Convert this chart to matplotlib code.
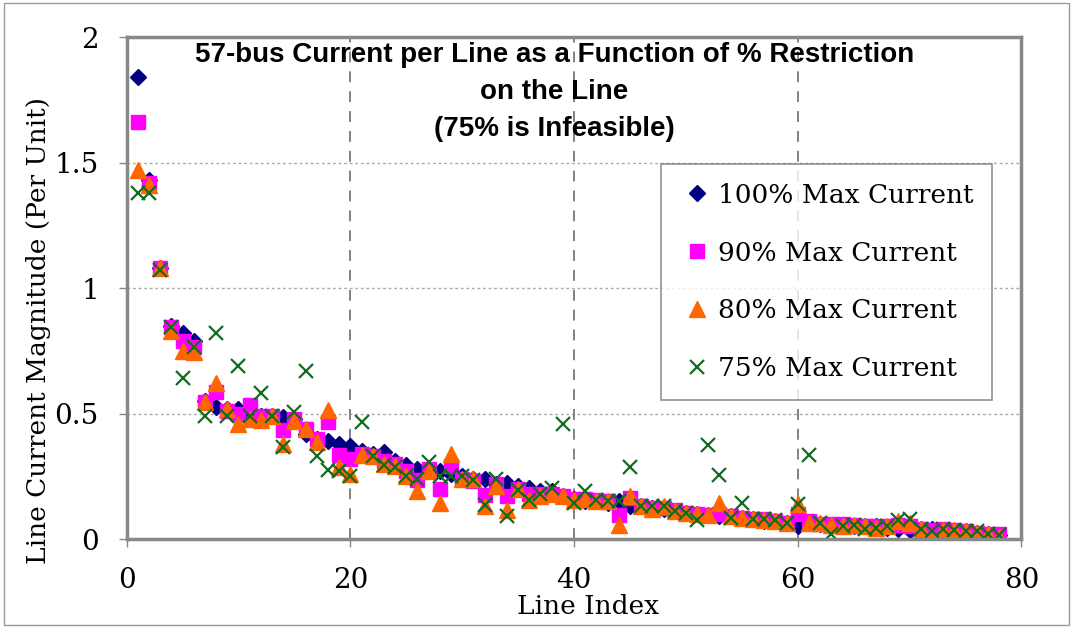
import matplotlib
matplotlib.use('Agg')

import matplotlib.pyplot as plt
from matplotlib.patches import Rectangle

# line current (per unit) for each restriction level, lines 1..78
line_index = list(range(1, 79))

cur_100 = [1.84, 1.43, 1.08, 0.85, 0.82, 0.79, 0.55, 0.525, 0.52, 0.52,
           0.50, 0.49, 0.49, 0.485, 0.48, 0.42, 0.40, 0.39, 0.38, 0.37,
           0.35, 0.34, 0.345, 0.31, 0.295, 0.28, 0.28, 0.27, 0.26, 0.25,
           0.24, 0.24, 0.22, 0.225, 0.21, 0.205, 0.19, 0.19, 0.17, 0.16,
           0.15, 0.15, 0.145, 0.15, 0.13, 0.13, 0.125, 0.12, 0.11, 0.105,
           0.10, 0.095, 0.09, 0.09, 0.085, 0.08, 0.07, 0.07, 0.065, 0.05,
           0.065, 0.06, 0.055, 0.055, 0.05, 0.05, 0.05, 0.045, 0.04, 0.035,
           0.04, 0.04, 0.035, 0.03, 0.03, 0.025, 0.02, 0.015]

cur_90 = [1.66, 1.42, 1.08, 0.845, 0.79, 0.765, 0.545, 0.585, 0.51, 0.50,
          0.535, 0.49, 0.49, 0.435, 0.48, 0.44, 0.40, 0.465, 0.335, 0.32,
          0.34, 0.33, 0.31, 0.30, 0.27, 0.235, 0.28, 0.20, 0.29, 0.24,
          0.23, 0.175, 0.22, 0.17, 0.20, 0.18, 0.18, 0.18, 0.17, 0.16,
          0.16, 0.155, 0.15, 0.095, 0.165, 0.13, 0.125, 0.125, 0.115, 0.105,
          0.10, 0.095, 0.10, 0.09, 0.085, 0.08, 0.08, 0.07, 0.065, 0.10,
          0.07, 0.06, 0.06, 0.06, 0.055, 0.05, 0.05, 0.05, 0.055, 0.05,
          0.04, 0.035, 0.04, 0.035, 0.03, 0.025, 0.02, 0.02]

cur_80 = [1.47, 1.41, 1.08, 0.83, 0.75, 0.745, 0.545, 0.62, 0.52, 0.46,
          0.48, 0.475, 0.49, 0.38, 0.47, 0.44, 0.385, 0.515, 0.285, 0.26,
          0.335, 0.33, 0.30, 0.29, 0.25, 0.19, 0.27, 0.145, 0.34, 0.24,
          0.24, 0.13, 0.21, 0.115, 0.20, 0.155, 0.17, 0.18, 0.17, 0.155,
          0.16, 0.15, 0.15, 0.055, 0.17, 0.13, 0.12, 0.13, 0.11, 0.105,
          0.10, 0.095, 0.145, 0.09, 0.085, 0.08, 0.075, 0.07, 0.065, 0.14,
          0.065, 0.065, 0.055, 0.05, 0.055, 0.05, 0.045, 0.05, 0.07, 0.065,
          0.04, 0.01, 0.035, 0.035, 0.03, 0.025, 0.02, 0.01]

cur_75 = [1.38, 1.38, 1.07, 0.845, 0.64, 0.765, 0.49, 0.82, 0.49, 0.69,
          0.49, 0.58, 0.49, 0.365, 0.505, 0.67, 0.33, 0.275, 0.27, 0.25,
          0.465, 0.33, 0.295, 0.285, 0.25, 0.24, 0.305, 0.25, 0.25, 0.25,
          0.235, 0.135, 0.24, 0.09, 0.195, 0.155, 0.18, 0.205, 0.46, 0.145,
          0.19, 0.155, 0.15, 0.15, 0.285, 0.13, 0.13, 0.13, 0.11, 0.105,
          0.075, 0.375, 0.255, 0.085, 0.145, 0.08, 0.08, 0.075, 0.065, 0.14,
          0.335, 0.065, 0.02, 0.05, 0.055, 0.04, 0.045, 0.05, 0.075, 0.08,
          0.04, 0.03, 0.04, 0.035, 0.03, 0.03, 0.02, 0.015]

serif = ['DejaVu Serif']

fig = plt.figure(figsize=(10.73, 6.28), dpi=100)
ax = fig.add_axes([0.118, 0.1417, 0.834, 0.7993])

ax.plot(line_index, cur_100, ls='none', marker='D', ms=8, color='#000080', label='100% Max Current')
ax.plot(line_index, cur_90, ls='none', marker='s', ms=10, color='#FF00FF', label='90% Max Current')
ax.plot(line_index, cur_80, ls='none', marker='^', ms=11, color='#FF6600', label='80% Max Current')
ax.plot(line_index, cur_75, ls='none', marker='x', ms=10, mew=1.6, color='#126B1E', label='75% Max Current')

ax.set_xlim(0, 80)
ax.set_ylim(0, 2)
ax.set_xticks([0, 20, 40, 60, 80])
ax.set_yticks([0, 0.5, 1, 1.5, 2])
ax.set_yticklabels(['0', '0.5', '1', '1.5', '2'])

for v in [0.5, 1.0, 1.5]:
    ax.axhline(v, color='#aaaaaa', lw=1, ls=(0, (2, 2)), zorder=0)
for v in [20, 40, 60]:
    ax.axvline(v, color='#777777', lw=1.3, ls=(0, (6, 5)), zorder=0)

for s in ax.spines.values():
    s.set_color('#888888')
    s.set_linewidth(2.5)
ax.tick_params(direction='out', color='#888888', width=1, length=6,
               labelsize=20, pad=14)
for lab in ax.get_xticklabels() + ax.get_yticklabels():
    lab.set_family(serif)

ax.set_xlabel('Line Index', fontsize=19, family=serif)
ax.xaxis.set_label_coords(0.516, -0.11)
ax.set_ylabel('Line Current Magnitude (Per Unit)', fontsize=19, family=serif)
ax.yaxis.set_label_coords(-0.085, 0.416)

ax.text(0.478, 0.99, '57-bus Current per Line as a Function of % Restriction\non the Line\n(75% is Infeasible)',
        transform=ax.transAxes, ha='center', va='top', fontsize=20, fontweight='bold',
        family=['Liberation Sans', 'DejaVu Sans'], linespacing=1.55)

leg = ax.legend(loc='upper right', bbox_to_anchor=(0.9665, 0.747), frameon=True, fancybox=False,
                prop={'family': serif, 'size': 19}, labelspacing=1.25, handletextpad=0.1,
                borderpad=0.7, handlelength=1.35, borderaxespad=0)
leg.get_frame().set_edgecolor('#777777')
leg.get_frame().set_linewidth(1.2)

fig.patches.append(Rectangle((0.004, 0.004), 0.992, 0.992, transform=fig.transFigure,
                             fill=False, edgecolor='#999999', lw=1))

plt.savefig('out.png', dpi=100)
plt.close()
